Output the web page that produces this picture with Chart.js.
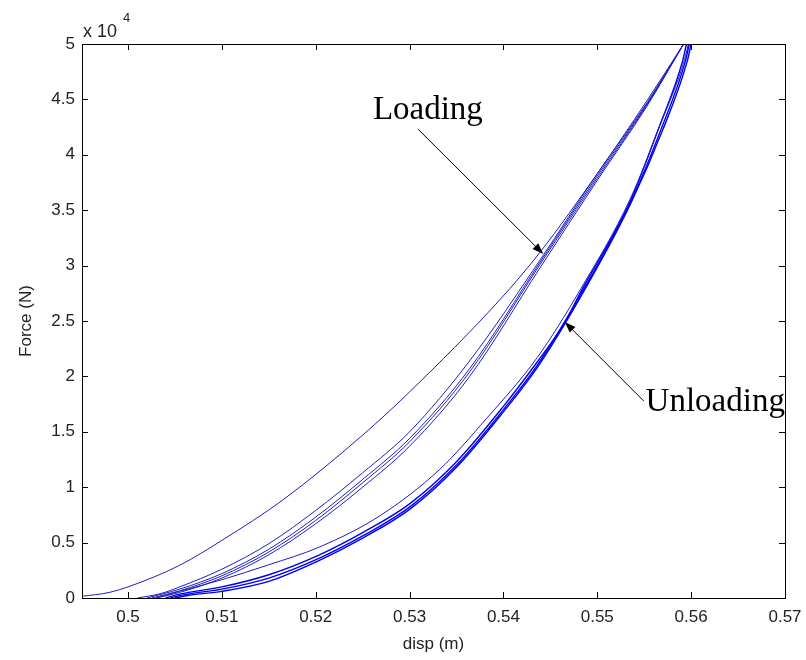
<!DOCTYPE html>
<html>
<head>
<meta charset="utf-8">
<script src="https://cdn.jsdelivr.net/npm/chart.js@4.4.1/dist/chart.umd.min.js"></script>
<style>
  html, body { margin: 0; padding: 0; background: #fff; }
</style>
</head>
<body>
<canvas id="chart" width="806" height="660"></canvas>
<script>
// axis ticks
const xTicks = [0.5, 0.51, 0.52, 0.53, 0.54, 0.55, 0.56, 0.57];
const yTicks = [0, 5000, 10000, 15000, 20000, 25000, 30000, 35000, 40000, 45000, 50000];

// first loading (outermost curve)
const load1Disp  = [0.4951, 0.4980, 0.5000, 0.5055, 0.5100, 0.5165, 0.5250, 0.5300, 0.5396, 0.5439, 0.5500, 0.5553, 0.5592];
const load1Force = [150, 500, 1000, 2950, 5200, 8850, 14700, 18600, 26900, 31200, 38300, 44900, 50000];

// later loading cycles
const load2Disp  = [0.5010, 0.5035, 0.5055, 0.5100, 0.5150, 0.5200, 0.5250, 0.5300, 0.5364, 0.5439, 0.5500, 0.5553, 0.5592];
const load2Force = [0, 400, 1000, 2600, 4900, 7900, 11300, 15000, 21400, 30500, 38300, 44700, 50000];
const load3Disp  = [0.5020, 0.5055, 0.5100, 0.5150, 0.5200, 0.5250, 0.5300, 0.5364, 0.5439, 0.5500, 0.5553, 0.5592];
const load3Force = [0, 800, 2200, 4400, 7300, 10700, 14400, 20700, 30300, 38100, 44600, 50000];
const load4Disp  = [0.5025, 0.5055, 0.5100, 0.5150, 0.5200, 0.5250, 0.5300, 0.5364, 0.5439, 0.5500, 0.5553, 0.5592];
const load4Force = [0, 650, 2000, 4150, 7000, 10400, 14100, 20400, 30100, 37900, 44500, 50000];
const load5Disp  = [0.5030, 0.5055, 0.5100, 0.5150, 0.5200, 0.5250, 0.5300, 0.5364, 0.5439, 0.5500, 0.5553, 0.5592];
const load5Force = [0, 500, 1800, 3900, 6700, 10000, 13700, 20000, 29800, 37700, 44400, 50000];

// thin curve just above the unloading band
const midDisp  = [0.5030, 0.5055, 0.5100, 0.5150, 0.5204, 0.5268, 0.5332, 0.5382, 0.5436, 0.5481, 0.5535, 0.5566, 0.5593, 0.5597];
const midForce = [0, 600, 1650, 3000, 4600, 7400, 11600, 16200, 21700, 27700, 36000, 42500, 48600, 50000];

// unloading curves
const unl1Disp  = [0.5040, 0.5055, 0.5100, 0.5150, 0.5204, 0.5250, 0.5300, 0.5350, 0.5400, 0.5436, 0.5465, 0.5481, 0.5535, 0.5565, 0.5591, 0.5595];
const unl1Force = [0, 350, 1000, 2100, 3900, 5900, 8500, 12300, 17300, 21300, 24800, 27400, 35800, 42300, 48500, 50000];
const unl2Disp  = [0.5045, 0.5060, 0.5100, 0.5150, 0.5204, 0.5250, 0.5300, 0.5350, 0.5400, 0.5436, 0.5481, 0.5535, 0.5568, 0.5594, 0.5598];
const unl2Force = [0, 300, 800, 1800, 3600, 5600, 8200, 12000, 17000, 21000, 27200, 35600, 42300, 48500, 50000];
const unl3Disp  = [0.5050, 0.5065, 0.5100, 0.5150, 0.5204, 0.5250, 0.5300, 0.5350, 0.5400, 0.5436, 0.5481, 0.5535, 0.5570, 0.5596, 0.5600];
const unl3Force = [0, 250, 600, 1500, 3400, 5400, 8000, 11800, 16800, 20800, 27000, 35500, 42300, 48500, 50000];

const curves = [
  [load1Disp, load1Force],
  [load2Disp, load2Force],
  [load3Disp, load3Force],
  [load4Disp, load4Force],
  [load5Disp, load5Force],
  [midDisp, midForce],
  [unl1Disp, unl1Force],
  [unl2Disp, unl2Force],
  [unl3Disp, unl3Force]
];

// text annotations, in data units
const notes = [
  { text: 'Loading', at: [0.53195, 44050], tail: [0.53092, 42300], tip: [0.54424, 31050], align: 'center' },
  { text: 'Unloading', at: [0.55515, 17690], tail: [0.55495, 17780], tip: [0.54654, 24910], align: 'left' }
];

const toPts = (d, f) => d.map((x, i) => ({ x: x, y: f[i] }));

const datasets = curves.map((c, i) => ({
  data: toPts(c[0], c[1]),
  showLine: true,
  pointRadius: 0,
  borderColor: i < 6 ? 'rgb(30,30,190)' : 'rgb(0,0,235)',
  borderWidth: i < 6 ? 1 : 1.4,
  cubicInterpolationMode: 'monotone',
  fill: false
}));

const boxPlugin = {
  id: 'matlabBox',
  afterDraw(chart) {
    const ctx = chart.ctx;
    const a = chart.chartArea;
    const xs = chart.scales.x, ys = chart.scales.y;
    ctx.save();
    ctx.strokeStyle = '#000';
    ctx.lineWidth = 1;
    ctx.strokeRect(Math.round(a.left) + 0.5, Math.round(a.top) + 0.5, Math.round(a.right - a.left), Math.round(a.bottom - a.top));
    ctx.beginPath();
    const len = 6;
    xTicks.forEach(v => {
      const px = Math.round(xs.getPixelForValue(v)) + 0.5;
      ctx.moveTo(px, a.bottom); ctx.lineTo(px, a.bottom - len);
      ctx.moveTo(px, a.top); ctx.lineTo(px, a.top + len);
    });
    yTicks.forEach(v => {
      const py = Math.round(ys.getPixelForValue(v)) + 0.5;
      ctx.moveTo(a.left, py); ctx.lineTo(a.left + len, py);
      ctx.moveTo(a.right, py); ctx.lineTo(a.right - len, py);
    });
    ctx.stroke();

    // exponent label
    ctx.fillStyle = '#222';
    ctx.textBaseline = 'alphabetic';
    ctx.textAlign = 'left';
    ctx.font = '18px "Liberation Sans", Arial, sans-serif';
    ctx.fillText('x 10', a.left + 1, 37);
    ctx.font = '13px "Liberation Sans", Arial, sans-serif';
    ctx.fillText('4', a.left + 41, 22);

    // annotations with arrows
    ctx.fillStyle = '#000';
    ctx.strokeStyle = '#000';
    ctx.font = '33px "Liberation Serif", "DejaVu Serif", serif';
    ctx.textBaseline = 'middle';
    notes.forEach(n => {
      ctx.textAlign = n.align;
      ctx.fillText(n.text, xs.getPixelForValue(n.at[0]), ys.getPixelForValue(n.at[1]));
      const x0 = xs.getPixelForValue(n.tail[0]), y0 = ys.getPixelForValue(n.tail[1]);
      const x1 = xs.getPixelForValue(n.tip[0]), y1 = ys.getPixelForValue(n.tip[1]);
      const ang = Math.atan2(y1 - y0, x1 - x0);
      ctx.beginPath();
      ctx.moveTo(x0, y0);
      ctx.lineTo(x1 - 8 * Math.cos(ang), y1 - 8 * Math.sin(ang));
      ctx.stroke();
      ctx.beginPath();
      ctx.moveTo(x1, y1);
      ctx.lineTo(x1 - 11 * Math.cos(ang) + 4 * Math.sin(ang), y1 - 11 * Math.sin(ang) - 4 * Math.cos(ang));
      ctx.lineTo(x1 - 11 * Math.cos(ang) - 4 * Math.sin(ang), y1 - 11 * Math.sin(ang) + 4 * Math.cos(ang));
      ctx.closePath();
      ctx.fill();
    });
    ctx.restore();
  }
};

const tickFont = { family: '"Liberation Sans", Arial, sans-serif', size: 17 };

new Chart(document.getElementById('chart'), {
  type: 'scatter',
  data: { datasets: datasets },
  options: {
    responsive: false,
    animation: false,
    layout: { padding: { top: 44, right: 21, left: 0, bottom: 0 } },
    plugins: { legend: { display: false }, tooltip: { enabled: false } },
    scales: {
      x: {
        type: 'linear',
        min: 0.4951,
        max: 0.57,
        afterFit: s => { s.height = 62; s.paddingLeft = 0; s.paddingRight = 0; },
        afterBuildTicks: s => { s.ticks = xTicks.map(v => ({ value: v })); },
        grid: { display: false, drawTicks: false },
        border: { display: false },
        ticks: {
          color: '#222',
          font: tickFont,
          padding: 9,
          maxRotation: 0,
          autoSkip: false,
          callback: v => String(+v.toFixed(2))
        },
        title: {
          display: true,
          text: 'disp (m)',
          color: '#222',
          font: tickFont,
          padding: { top: 0, bottom: 5 }
        }
      },
      y: {
        type: 'linear',
        min: 0,
        max: 50000,
        afterFit: s => { s.width = 82; s.paddingTop = 0; s.paddingBottom = 0; },
        afterBuildTicks: s => { s.ticks = yTicks.map(v => ({ value: v })); },
        grid: { display: false, drawTicks: false },
        border: { display: false },
        ticks: {
          color: '#222',
          font: tickFont,
          padding: 7,
          autoSkip: false,
          callback: v => String(v / 10000)
        },
        title: {
          display: true,
          text: 'Force (N)',
          color: '#222',
          font: tickFont,
          padding: { top: 16, bottom: 0 }
        }
      }
    }
  },
  plugins: [boxPlugin]
});
</script>
</body>
</html>
